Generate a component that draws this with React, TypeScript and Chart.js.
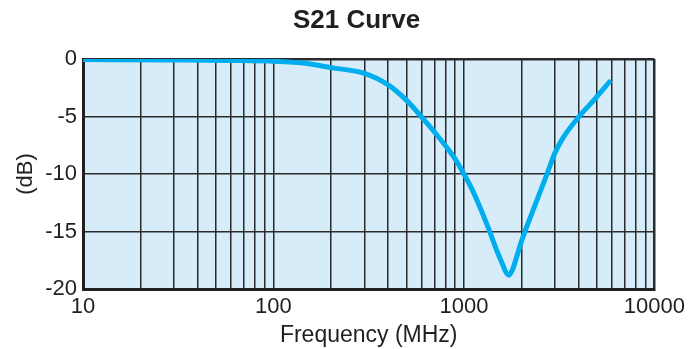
import React, { useEffect, useRef } from 'react';
import { Chart, registerables } from 'chart.js';

Chart.register(...registerables);

// Curve samples (frequency in MHz, S21 in dB)
const FREQ_MHZ = [10, 30, 60, 100, 150, 200, 300, 400, 500, 600, 700, 800, 900, 1000, 1100, 1200, 1350, 1500, 1600, 1650, 1720, 1800, 1900, 2000, 2400, 2700, 3000, 3300, 4000, 4800, 5800];
const S21_DB = [-0.05, -0.08, -0.12, -0.2, -0.4, -0.75, -1.25, -2.25, -3.6, -5.05, -6.35, -7.55, -8.7, -10.0, -11.3, -12.7, -14.8, -16.8, -17.9, -18.45, -18.8, -18.3, -17.1, -15.9, -12.4, -10.2, -8.2, -6.9, -5.05, -3.6, -2.0];

// Axis ticks / grid positions
const X_GRID_MHZ = [10, 20, 30, 40, 50, 60, 70, 80, 90, 100, 200, 300, 400, 500, 600, 700, 800, 900, 1000, 2000, 3000, 4000, 5000, 6000, 7000, 8000, 9000, 10000];
const X_TICK_LABELS = [10, 100, 1000, 10000];
const Y_TICKS = [-20, -15, -10, -5, 0];

const TEXT_COLOR = '#231f20';
const GRID_COLOR = '#2b2b2b';
const PLOT_BG = '#d6ecf9';
const CURVE_COLOR = '#00adee';
const FONT = '"Liberation Sans", Arial, Helvetica, sans-serif';

const plotBackground = {
  id: 'plotBackground',
  beforeDraw(chart: any) {
    const { ctx, chartArea } = chart;
    if (!chartArea) return;
    ctx.save();
    ctx.fillStyle = PLOT_BG;
    ctx.fillRect(chartArea.left, chartArea.top, chartArea.right - chartArea.left, chartArea.bottom - chartArea.top);
    ctx.restore();
  },
};

export default function App() {
  const canvasRef = useRef<HTMLCanvasElement | null>(null);

  useEffect(() => {
    const canvas = canvasRef.current;
    if (!canvas) return;
    Chart.defaults.font.family = FONT;
    Chart.defaults.color = TEXT_COLOR;

    const chart = new Chart(canvas, {
      type: 'line',
      data: {
        datasets: [
          {
            label: 'S21',
            data: FREQ_MHZ.map((f, i) => ({ x: f, y: S21_DB[i] })),
            borderColor: CURVE_COLOR,
            borderWidth: 5,
            pointRadius: 0,
            fill: false,
            cubicInterpolationMode: 'monotone',
            borderCapStyle: 'round',
            borderJoinStyle: 'round',
          } as any,
        ],
      },
      options: {
        animation: false,
        responsive: false,
        maintainAspectRatio: false,
        layout: { padding: { left: 23, right: 0, top: 0, bottom: 0 } },
        plugins: {
          legend: { display: false },
          tooltip: { enabled: false },
          title: {
            display: true,
            text: 'S21 Curve',
            color: TEXT_COLOR,
            font: { family: FONT, size: 26, weight: 'bold' },
            padding: { top: 5, bottom: 22.8 },
          },
        },
        scales: {
          x: {
            type: 'logarithmic',
            position: 'bottom',
            min: 10,
            max: 10000,
            afterBuildTicks: (s: any) => {
              s.ticks = X_GRID_MHZ.map((v) => ({ value: v }));
            },
            afterFit: (s: any) => {
              s.height = 60;
            },
            ticks: {
              autoSkip: false,
              maxRotation: 0,
              minRotation: 0,
              padding: 5,
              color: TEXT_COLOR,
              font: { family: FONT, size: 22 },
              callback: (v: any) => (X_TICK_LABELS.includes(Number(v)) ? String(v) : ''),
            },
            grid: {
              color: GRID_COLOR,
              lineWidth: (c: any) => (c.tick && c.tick.value === 10000 ? 2.5 : 1.5),
              drawTicks: false,
            },
            border: { color: TEXT_COLOR, width: 3 },
            title: {
              display: true,
              text: 'Frequency (MHz)',
              color: TEXT_COLOR,
              font: { family: FONT, size: 23 },
              padding: { top: 0, bottom: 0 },
            },
          } as any,
          y: {
            type: 'linear',
            position: 'left',
            min: -20,
            max: 0,
            afterBuildTicks: (s: any) => {
              s.ticks = Y_TICKS.map((v) => ({ value: v }));
            },
            afterFit: (s: any) => {
              s.width = 60;
            },
            ticks: {
              padding: 6,
              color: TEXT_COLOR,
              font: { family: FONT, size: 22 },
              callback: (v: any) => String(v),
            },
            grid: {
              color: GRID_COLOR,
              lineWidth: (c: any) => (c.tick && c.tick.value === 0 ? 2.5 : 1.5),
              drawTicks: false,
            },
            border: { color: TEXT_COLOR, width: 3 },
            title: {
              display: true,
              text: '(dB)',
              color: TEXT_COLOR,
              font: { family: FONT, size: 22 },
              padding: { top: -10.2, bottom: 0 },
            },
          } as any,
          yRight: {
            type: 'linear',
            position: 'right',
            display: true,
            afterFit: (s: any) => {
              s.width = 35;
            },
            ticks: { display: false },
            grid: { display: false, drawTicks: false },
            border: { display: false },
            title: { display: false },
          } as any,
        },
      },
      plugins: [plotBackground],
    });

    return () => chart.destroy();
  }, []);

  return (
    <div style={{ position: 'fixed', left: 0, top: 0, width: 690, height: 349, background: '#ffffff' }}>
      <canvas ref={canvasRef} width={690} height={349} style={{ display: 'block', width: 690, height: 349 }} />
    </div>
  );
}
